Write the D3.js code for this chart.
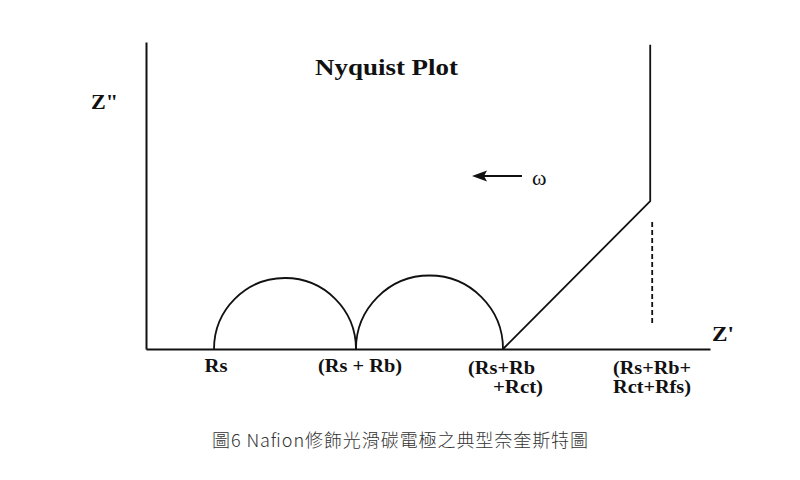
<!DOCTYPE html>
<html><head><meta charset="utf-8">
<script src="https://cdn.jsdelivr.net/npm/d3@7"></script>
<style>
body{margin:0;background:#fff;}
svg{display:block;}
.serif{font-family:"Liberation Serif","Times New Roman",serif;font-weight:bold;fill:#111;}
</style></head>
<body>
<script>
// Data (arbitrary impedance units)
const resistanceLabels = [["Rs"], ["(Rs + Rb)"], ["(Rs+Rb", "+Rct)"], ["(Rs+Rb+", "Rct+Rfs)"]];
const resistanceValues = [12.06, 37.23, 63.3, 89.4];       // Z' intercepts
const diffusionLine = [[63.3, 0], [89.4, 26.2], [89.4, 53.9]]; // Warburg + capacitive
const dashedLine = [[89.75, 4.6], [89.75, 22.5]];
const xDomain = [0, 100];
const yDomain = [0, 54.4];

const W = 800, H = 480;
const svg = d3.select("body").append("svg").attr("width", W).attr("height", H);

const x = d3.scaleLinear().domain(xDomain).range([146, 710]);
const y = d3.scaleLinear().domain(yDomain).range([349, 42]);

// axes
const xAxis = d3.axisBottom(x).tickValues([]).tickSizeOuter(0);
const yAxis = d3.axisLeft(y).tickValues([]).tickSizeOuter(0);
svg.append("g").attr("transform", `translate(0,${y(0)})`).call(xAxis)
  .select(".domain").attr("stroke", "#111").attr("stroke-width", 2);
svg.append("g").attr("transform", `translate(${x(0)},0)`).call(yAxis)
  .select(".domain").attr("stroke", "#111").attr("stroke-width", 2);

// semicircles between consecutive intercepts
const arcs = [[resistanceValues[0], resistanceValues[1]], [resistanceValues[1], resistanceValues[2]]];
arcs.forEach(([a, b]) => {
  const x1 = x(a), x2 = x(b), r = (x2 - x1) / 2;
  const p = d3.path();
  p.moveTo(x1, y(0));
  p.arc((x1 + x2) / 2, y(0), r, Math.PI, 2 * Math.PI);
  svg.append("path").attr("d", p.toString()).attr("fill", "none")
    .attr("stroke", "#111").attr("stroke-width", 1.8);
});

const line = d3.line().x(d => x(d[0])).y(d => y(d[1]));
svg.append("path").attr("d", line(diffusionLine)).attr("fill", "none")
  .attr("stroke", "#111").attr("stroke-width", 1.8);
svg.append("path").attr("d", line(dashedLine)).attr("fill", "none")
  .attr("stroke", "#111").attr("stroke-width", 1.8).attr("stroke-dasharray", "5,3");

// frequency arrow (pointing left)
svg.append("line").attr("x1", 522).attr("y1", 176).attr("x2", 480).attr("y2", 176)
  .attr("stroke", "#111").attr("stroke-width", 1.8);
svg.append("path").attr("d", "M472,176 L487,170.5 L484,176 L487,181.5 Z").attr("fill", "#111");
svg.append("text").attr("class", "serif").attr("x", 532).attr("y", 185)
  .style("font-weight", "normal").attr("font-size", 22).text("ω");

// titles
svg.append("text").attr("class", "serif").attr("x", 315).attr("y", 75)
  .attr("font-size", 24).attr("textLength", 143).attr("lengthAdjust", "spacingAndGlyphs").text("Nyquist Plot");
svg.append("text").attr("class", "serif").attr("x", 91).attr("y", 109)
  .attr("font-size", 21).attr("textLength", 27).attr("lengthAdjust", "spacingAndGlyphs").text("Z\"");
svg.append("text").attr("class", "serif").attr("x", 712).attr("y", 341)
  .attr("font-size", 21).attr("textLength", 22).attr("lengthAdjust", "spacingAndGlyphs").text("Z'");

// intercept labels
const labelPos = [
  [{x: 216, y: 372, a: "middle", w: 23}],
  [{x: 360, y: 372, a: "middle", w: 84}],
  [{x: 468, y: 374, a: "start", w: 67}, {x: 543, y: 393, a: "end", w: 50}],
  [{x: 652, y: 374, a: "middle", w: 78}, {x: 652, y: 393, a: "middle", w: 78}]
];
resistanceLabels.forEach((lines, i) => {
  lines.forEach((t, j) => {
    const p = labelPos[i][j];
    svg.append("text").attr("class", "serif").attr("x", p.x).attr("y", p.y)
      .attr("text-anchor", p.a).attr("font-size", 19)
      .attr("textLength", p.w).attr("lengthAdjust", "spacingAndGlyphs").text(t);
  });
});

// caption
svg.append("text").attr("x", 400).attr("y", 447).attr("text-anchor", "middle")
  .attr("font-family", "'Noto Sans CJK TC','Noto Sans',sans-serif").attr("font-size", 18)
  .attr("fill", "#333").attr("font-weight", 300)
  .attr("textLength", 376).attr("lengthAdjust", "spacing")
  .text("圖6 Nafion修飾光滑碳電極之典型奈奎斯特圖");
</script>
</body></html>
